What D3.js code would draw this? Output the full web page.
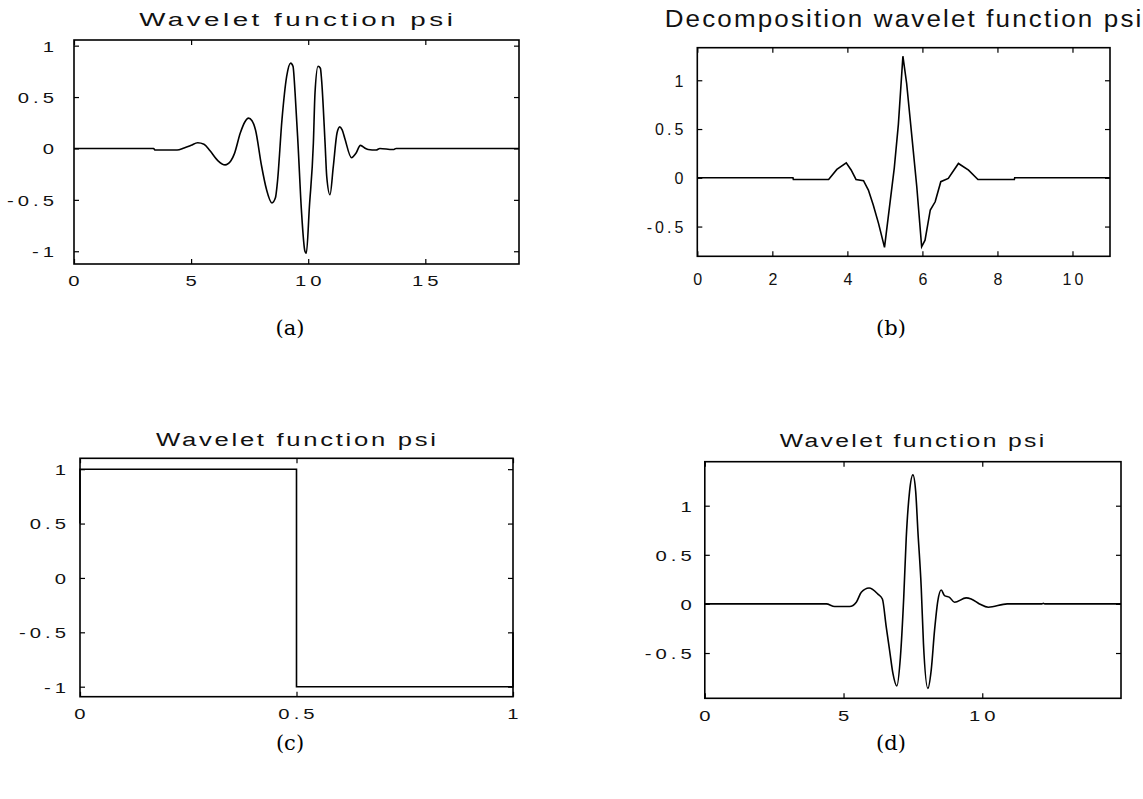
<!DOCTYPE html>
<html><head><meta charset="utf-8">
<script src="https://cdn.jsdelivr.net/npm/d3@7"></script>
<style>body{margin:0;background:#fff}svg{display:block}</style>
</head><body>
<svg id="c" width="1143" height="799"></svg>
<script>
// ---- data ----
const titleA = "Wavelet function psi";
const titleB = "Decomposition wavelet function psi";
const titleC = "Wavelet function psi";
const titleD = "Wavelet function psi";
const captions = ["(a)", "(b)", "(c)", "(d)"];

const ticksAX = [0, 5, 10, 15], ticksAY = [-1, -0.5, 0, 0.5, 1];
const ticksBX = [0, 2, 4, 6, 8, 10], ticksBY = [-0.5, 0, 0.5, 1];
const ticksCX = [0, 0.5, 1], ticksCY = [-1, -0.5, 0, 0.5, 1];
const ticksDX = [0, 5, 10], ticksDY = [-0.5, 0, 0.5, 1];

const psiAx = [0, 3.4, 3.45, 4.4, 4.7, 5.0, 5.28, 5.55, 5.8, 6.15, 6.45, 6.7, 6.85, 7.1, 7.3, 7.45, 7.6, 7.75, 8.0, 8.22, 8.45, 8.6, 8.68, 8.88, 9.08, 9.25, 9.35, 9.44, 9.57, 9.71, 9.86, 9.92, 10.05, 10.22, 10.29, 10.42, 10.52, 10.57, 10.72, 10.79, 10.93, 11.07, 11.23, 11.35, 11.45, 11.56, 11.85, 12.03, 12.23, 12.45, 12.56, 12.9, 13.06, 13.6, 13.66, 13.75, 19];
const psiAy = [0, 0, -0.015, -0.015, 0.005, 0.03, 0.055, 0.04, -0.02, -0.12, -0.16, -0.12, -0.05, 0.15, 0.26, 0.295, 0.27, 0.18, -0.16, -0.40, -0.53, -0.48, -0.34, 0.28, 0.70, 0.83, 0.8, 0.54, 0.02, -0.6, -1.0, -1.02, -0.57, 0.05, 0.54, 0.8, 0.78, 0.67, 0.05, -0.27, -0.45, -0.18, 0.15, 0.21, 0.18, 0.10, -0.09, -0.05, 0.03, 0.0, -0.01, -0.015, 0, -0.01, -0.01, 0, 0];

const psiBx = [0, 2.55, 2.56, 3.5, 3.72, 3.97, 4.1, 4.23, 4.43, 4.56, 4.69, 4.83, 4.99, 5.25, 5.36, 5.48, 5.58, 5.72, 5.85, 5.98, 6.07, 6.21, 6.34, 6.49, 6.69, 6.96, 7.23, 7.48, 8.45, 8.46, 11];
const psiBy = [0, 0, -0.017, -0.017, 0.086, 0.154, 0.08, -0.017, -0.03, -0.126, -0.28, -0.467, -0.713, 0.1, 0.55, 1.247, 0.967, 0.42, -0.092, -0.707, -0.64, -0.33, -0.246, -0.04, -0.007, 0.147, 0.079, -0.017, -0.017, 0, 0];

const psiCx = [0, 0, 0.5, 0.5, 1, 1];
const psiCy = [0.5, 1, 1, -1, -1, -0.5];

const psiDx = [0, 4.38, 4.68, 5.22, 5.46, 5.64, 5.92, 6.24, 6.4, 6.54, 6.66, 6.78, 6.92, 7.05, 7.17, 7.26, 7.38, 7.5, 7.6, 7.68, 7.8, 7.88, 8.04, 8.16, 8.28, 8.4, 8.52, 8.64, 8.82, 9.0, 9.42, 9.6, 9.9, 10.22, 10.9, 12.15, 12.2, 12.25, 15];
const psiDy = [0, 0, -0.027, -0.027, 0.017, 0.118, 0.162, 0.10, 0.05, -0.236, -0.472, -0.708, -0.836, -0.54, 0.067, 0.673, 1.146, 1.314, 1.146, 0.74, 0.168, -0.40, -0.86, -0.674, -0.27, 0.034, 0.142, 0.084, 0.067, 0.017, 0.061, 0.05, 0.0, -0.034, 0, 0, 0.006, 0, 0];

// ---- layout ----
const svg = d3.select("#c");
const SANS = "'Liberation Sans', Arial, sans-serif";
const panels = [
  {title: titleA, xs: psiAx, ys: psiAy, xT: ticksAX, yT: ticksAY, xD: [0, 19], yD: [-1.124, 1.055],
   left: 74, right: 519, top: 40, bottom: 264, tX: 296, tY: 26, tFs: 19, tSx: 1.46, tLs: 2.4, smooth: true,
   fs: 15, sx: 1.35, ls: 3, yGap: 19, xBase: 286, cap: [290, 335]},
  {title: titleB, xs: psiBx, ys: psiBy, xT: ticksBX, yT: ticksBY, xD: [0, 11], yD: [-0.805, 1.334],
   left: 697.3, right: 1110, top: 47.7, bottom: 256.3, tX: 903, tY: 27, tFs: 23, tSx: 1.13, tLs: 1.9, smooth: false,
   fs: 16, sx: 1.0, ls: 3, yGap: 14, xBase: 285, cap: [891, 335]},
  {title: titleC, xs: psiCx, ys: psiCy, xT: ticksCX, yT: ticksCY, xD: [0, 1], yD: [-1.092, 1.1],
   left: 80, right: 513, top: 458.3, bottom: 696.7, tX: 296, tY: 446, tFs: 19, tSx: 1.35, tLs: 2.0, smooth: false,
   fs: 15, sx: 1.35, ls: 3, yGap: 13, xBase: 719, cap: [290, 750]},
  {title: titleD, xs: psiDx, ys: psiDy, xT: ticksDX, yT: ticksDY, xD: [0, 15], yD: [-0.961, 1.448],
   left: 704.8, right: 1121, top: 461.7, bottom: 698.3, tX: 912, tY: 447, tFs: 19, tSx: 1.3, tLs: 1.8, smooth: true,
   fs: 15, sx: 1.35, ls: 3, yGap: 12, xBase: 721, cap: [891, 750]}
];

panels.forEach((p, i) => {
  const x = d3.scaleLinear().domain(p.xD).range([p.left, p.right]);
  const y = d3.scaleLinear().domain(p.yD).range([p.bottom, p.top]);
  const g = svg.append("g");
  const fmt = d => String(d);

  const styleText = sel => sel.selectAll("text")
    .attr("font-family", SANS).attr("font-size", p.fs).attr("fill", "#111")
    .attr("letter-spacing", p.ls);

  const bx = g.append("g").attr("transform", `translate(0,${p.bottom})`)
    .call(d3.axisBottom(x).tickValues(p.xT).tickSizeInner(-5).tickSizeOuter(0).tickFormat(fmt));
  styleText(bx);
  bx.selectAll("text").attr("y", p.xBase - p.bottom).attr("dy", 0)
    .attr("x", p.ls / 2 / p.sx)
    .attr("transform", `scale(${p.sx},1)`);
  const ly = g.append("g").attr("transform", `translate(${p.left},0)`)
    .call(d3.axisLeft(y).tickValues(p.yT).tickSizeInner(-5).tickSizeOuter(0).tickFormat(fmt));
  styleText(ly);
  ly.selectAll("text").attr("x", -(p.yGap - p.ls) / p.sx).attr("dy", "0.36em")
    .attr("transform", `scale(${p.sx},1)`);
  g.append("g").attr("transform", `translate(0,${p.top})`)
    .call(d3.axisTop(x).tickValues(p.xT).tickSizeInner(-5).tickSizeOuter(0).tickFormat(""));
  g.append("g").attr("transform", `translate(${p.right},0)`)
    .call(d3.axisRight(y).tickValues(p.yT).tickSizeInner(-5).tickSizeOuter(0).tickFormat(""));
  g.selectAll(".domain").remove();
  g.selectAll(".tick line").attr("stroke", "#000").attr("stroke-width", 1.2);

  const pts = p.xs.map((v, k) => [v, p.ys[k]]);
  const line = d3.line().x(d => x(d[0])).y(d => y(d[1]));
  if (p.smooth) line.curve(d3.curveMonotoneX);
  g.append("path").datum(pts)
    .attr("d", line)
    .attr("fill", "none").attr("stroke", "#000").attr("stroke-width", 1.6);

  g.append("rect").attr("x", p.left).attr("y", p.top)
    .attr("width", p.right - p.left).attr("height", p.bottom - p.top)
    .attr("fill", "none").attr("stroke", "#000").attr("stroke-width", 1.6);

  g.append("text").attr("x", (p.tX + p.tLs * p.tSx / 2) / p.tSx).attr("y", p.tY)
    .attr("text-anchor", "middle")
    .attr("transform", `scale(${p.tSx},1)`)
    .attr("font-family", SANS).attr("font-size", p.tFs).attr("fill", "#111")
    .attr("letter-spacing", p.tLs)
    .text(p.title);

  svg.append("text").attr("x", p.cap[0]).attr("y", p.cap[1]).attr("text-anchor", "middle")
    .attr("font-family", "'DejaVu Serif', 'Liberation Serif', serif").attr("font-size", 21)
    .attr("fill", "#000").text(captions[i]);
});
</script>
</body></html>
